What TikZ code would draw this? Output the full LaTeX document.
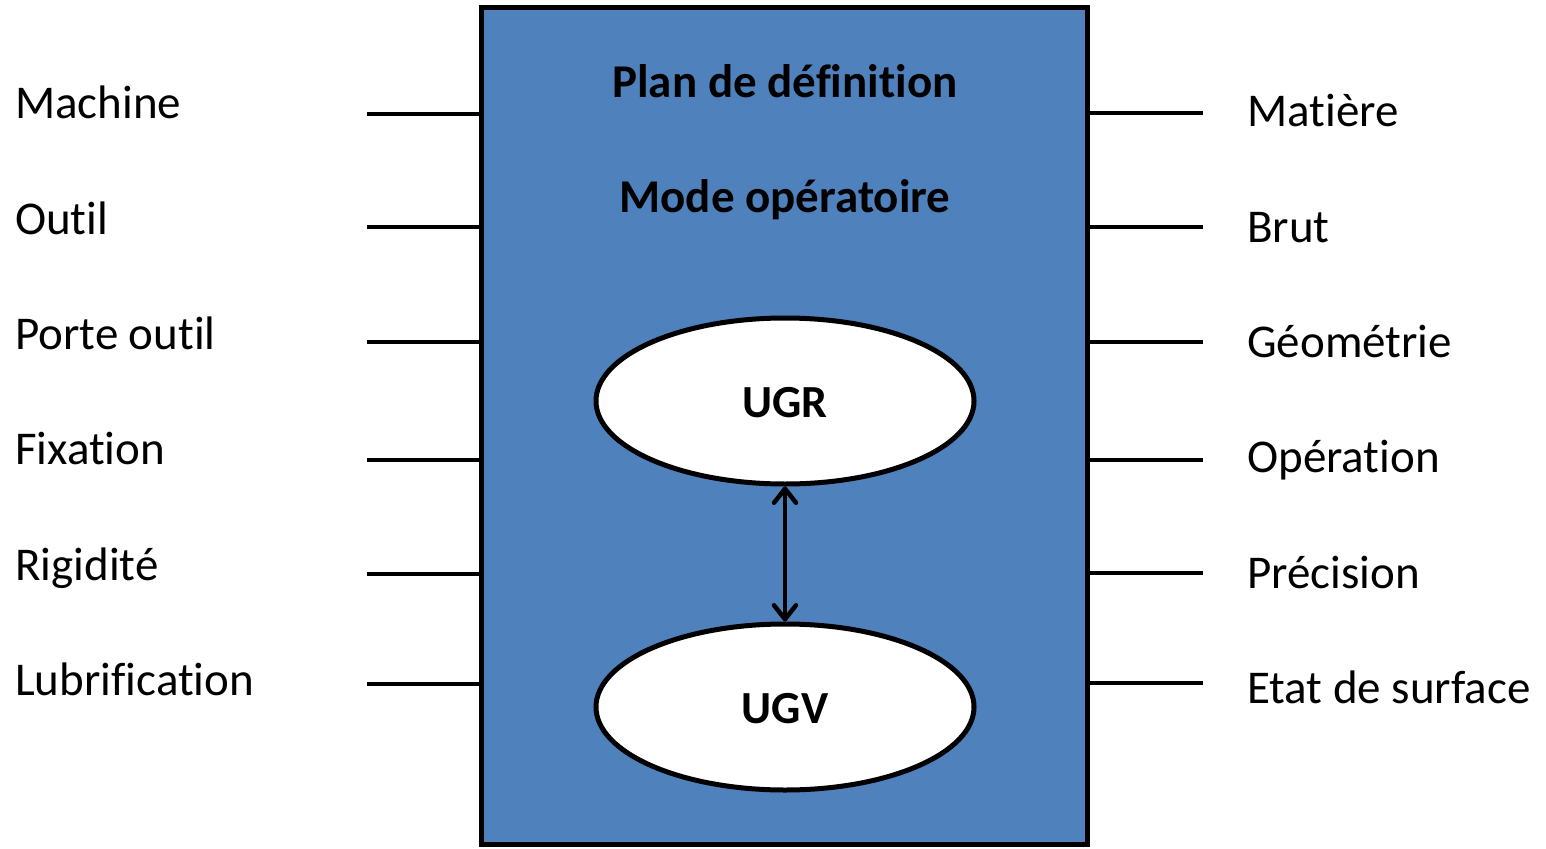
\documentclass[tikz,border=0pt]{standalone}
\usepackage{fontspec}
\setmainfont{Carlito}[Ligatures=CommonOff]
\usetikzlibrary{shapes.geometric,arrows.meta}
\definecolor{boxblue}{HTML}{4F81BD}
\begin{document}
\begin{tikzpicture}[x=1pt,y=-1pt,
  lbl/.style={anchor=base west,inner sep=0pt,font=\fontsize{47}{56}\selectfont},
  title/.style={anchor=base,inner sep=0pt,font=\fontsize{47}{56}\selectfont\bfseries},
  oval/.style={ellipse,draw=black,line width=5pt,fill=white,inner sep=0pt,minimum width=378pt,minimum height=166pt},
  ovaltext/.style={anchor=base,inner sep=0pt,font=\fontsize{46}{54}\selectfont\bfseries},
  stub/.style={line width=4.5pt},
  link/.style={line width=4.5pt,{Straight Barb[length=14pt,width=22pt,line cap=round,line join=round]}-{Straight Barb[length=14pt,width=22pt,line cap=round,line join=round]}}]
\useasboundingbox (0,0) rectangle (1546,848);
\node[draw=black,line width=5pt,fill=boxblue,minimum width=606pt,minimum height=836pt,inner sep=0pt] (box) at (784.5,426) {};
\node[title] (t1) at (785,98) {Plan de définition};
\node[title] (t2) at (785,212) {Mode opératoire};
\node[oval] (ugr) at (785,401) {};
\node[oval] (ugv) at (785,707) {};
\node[ovaltext] at (785,417) {UGR};
\node[ovaltext] at (785,723) {UGV};
\draw[link] (ugr.south) -- (ugv.north);
% left
\foreach \name/\txt/\by/\ly in {l1/Machine/119/114, l2/Outil/234/227, l3/Porte outil/349/342, l4/Fixation/464/460, l5/Rigidité/580/574, l6/Lubrification/695/684}{
  \node[lbl] (\name) at (15,\by) {\txt};
  \coordinate (\name e) at (367,\ly);
  \draw[stub] (\name e) -- (\name e -| box.west);
}
% right
\foreach \name/\txt/\by/\ly in {r1/Matière/127/113, r2/Brut/242/227, r3/Géométrie/357/342, r4/Opération/472/460, r5/Précision/588/573, r6/Etat de surface/703/683}{
  \node[lbl] (\name) at (1247,\by) {\txt};
  \coordinate (\name e) at (1203,\ly);
  \draw[stub] (\name e) -- (\name e -| box.east);
}
\end{tikzpicture}
\end{document}
